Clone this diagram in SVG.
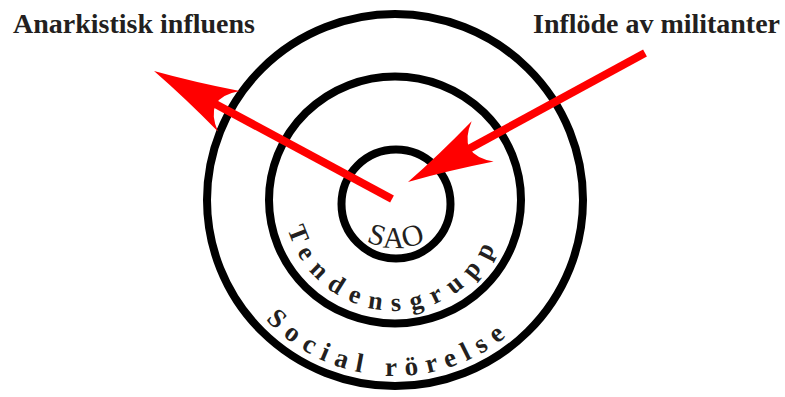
<svg xmlns="http://www.w3.org/2000/svg" xmlns:xlink="http://www.w3.org/1999/xlink" width="785" height="397" viewBox="0 0 785 397">
<style>
.ring{fill:none;stroke:#000;stroke-width:8}
.title{font-family:"Liberation Serif","Times New Roman",serif;font-weight:bold;font-size:27px;fill:#231f20}
.arc{font-family:"Liberation Serif","Times New Roman",serif;font-weight:bold;fill:#231f20}
.shaft{fill:none;stroke:#ff0000;stroke-width:8}
</style>
<defs>
<marker id="ah" markerUnits="userSpaceOnUse" markerWidth="92" markerHeight="52" viewBox="-90 -26 92 52" refX="-68" refY="0" orient="auto">
<path d="M0,0 Q-40,-9 -85,-23 Q-71,-12 -70,0 Q-71,12 -85,23 Q-40,9 0,0 Z" fill="#ff0000"/>
</marker>
<path id="pT" d="M284,200 A111,111 0 0 0 506,200"/>
<path id="pS" d="M219,200 A176,176 0 0 0 571,200"/>
<path id="pA" d="M326,178 A70,70 0 0 0 466,178"/>
</defs>
<g id="social-rorelse">
<ellipse class="ring" cx="395" cy="200" rx="188" ry="186"/>
<text class="arc" font-size="27" letter-spacing="8.5"><textPath xlink:href="#pS" href="#pS" startOffset="48.5%" text-anchor="middle">Social rörelse</textPath></text>
</g>
<g id="tendensgrupp">
<ellipse class="ring" cx="395" cy="200" rx="126" ry="123.5" stroke-width="8.5"/>
<text class="arc" font-size="26" letter-spacing="10"><textPath xlink:href="#pT" href="#pT" startOffset="48.5%" text-anchor="middle">Tendensgrupp</textPath></text>
</g>
<g id="sao">
<circle class="ring" cx="396" cy="204" r="54.5"/>
<text font-family="'Liberation Serif','Times New Roman',serif" font-size="30" letter-spacing="0.5" fill="#231f20"><textPath xlink:href="#pA" href="#pA" startOffset="50%" text-anchor="middle">SAO</textPath></text>
</g>
<g id="connectors">
<line class="shaft" x1="392" y1="199" x2="213.9" y2="103.2" marker-end="url(#ah)"/>
<line class="shaft" x1="645" y1="53" x2="467.7" y2="149.5" marker-end="url(#ah)"/>
</g>
<g id="anarkistisk-influens">
<text class="title" x="13" y="33" textLength="242" lengthAdjust="spacingAndGlyphs">Anarkistisk influens</text>
</g>
<g id="inflode-av-militanter">
<text class="title" x="533" y="33" textLength="247" lengthAdjust="spacingAndGlyphs">Inflöde av militanter</text>
</g>
</svg>
